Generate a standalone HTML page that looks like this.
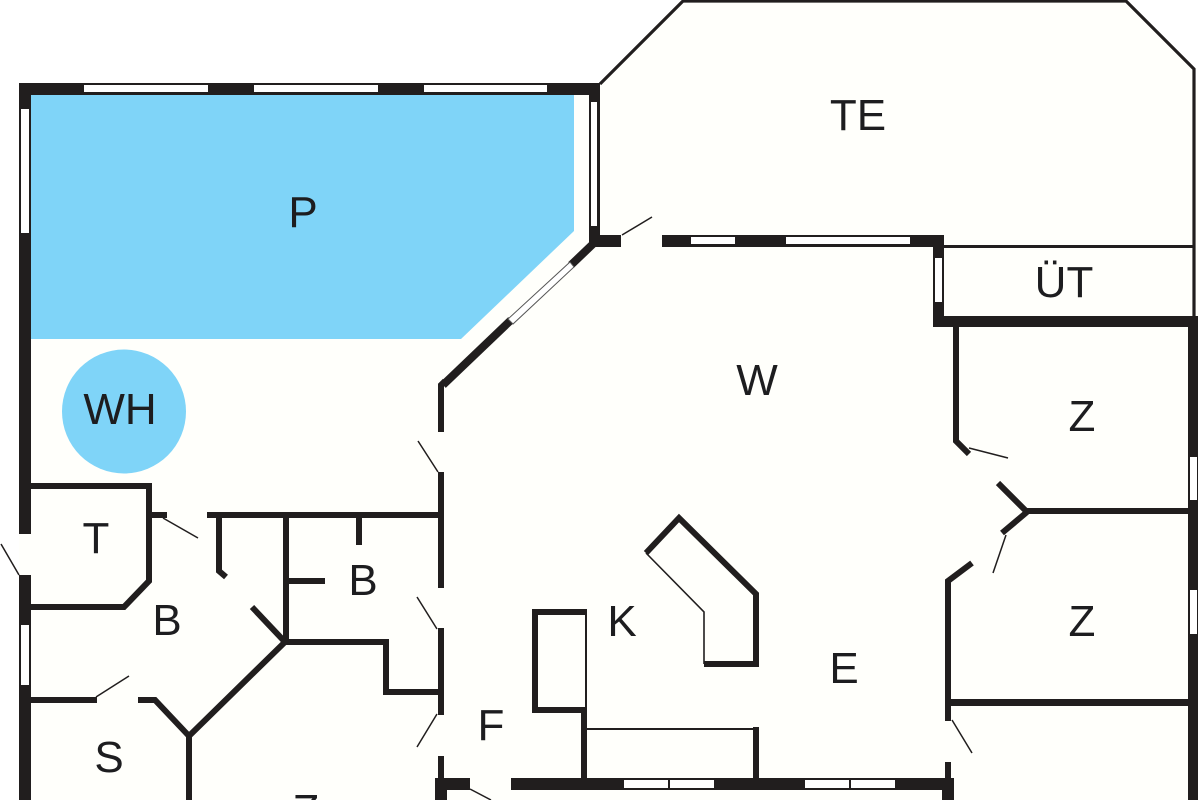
<!DOCTYPE html>
<html>
<head>
<meta charset="utf-8">
<style>
html,body{margin:0;padding:0;background:#fff;width:1200px;height:800px;overflow:hidden}
svg{display:block}
text{font-family:"Liberation Sans",sans-serif;font-size:44px;fill:#1d1d1f;text-anchor:middle}
.w{fill:#211e1e}
.l{stroke:#211e1e;fill:none;stroke-linejoin:miter;stroke-linecap:butt}
.win{fill:#fff}
</style>
</head>
<body>
<svg width="1200" height="800" viewBox="0 0 1200 800" xmlns="http://www.w3.org/2000/svg">
<!-- floor -->
<rect x="19" y="83" width="1179" height="717" fill="#fffffb"/>
<polygon points="600,83 683,0 1126,0 1195,69 1195,320 600,320" fill="#fffffb"/>
<!-- pool -->
<polygon points="31,95 574,95 574,231 461,339 31,339" fill="#7fd4f8"/>
<circle cx="124" cy="411.5" r="62" fill="#7fd4f8"/>
<!-- terrace -->
<polyline class="l" stroke-width="3.2" points="600,84 683,1 1126,1 1194,69 1194,316"/>
<rect class="w" x="944" y="245" width="250" height="3"/>
<!-- outer walls -->
<rect class="w" x="19" y="83" width="581" height="12"/>
<rect class="w" x="19" y="83" width="12" height="451"/>
<rect class="w" x="19" y="575" width="12" height="225"/>
<rect class="w" x="589" y="83" width="11" height="164"/>
<rect class="w" x="589" y="235" width="32" height="12"/>
<rect class="w" x="662" y="235" width="282" height="12"/>
<rect class="w" x="933" y="235" width="11" height="92"/>
<rect class="w" x="933" y="316" width="265" height="11"/>
<rect class="w" x="1188" y="316" width="10" height="484"/>
<rect class="w" x="435" y="778" width="35" height="12"/>
<rect class="w" x="435" y="778" width="12" height="22"/>
<rect class="w" x="511" y="778" width="443" height="12"/>
<rect class="w" x="942" y="778" width="12" height="22"/>
<!-- windows -->
<rect class="win" x="84" y="85" width="124" height="7"/>
<rect class="win" x="254" y="85" width="124" height="7"/>
<rect class="win" x="424" y="85" width="123" height="7"/>
<rect class="win" x="21" y="109" width="8" height="124"/>
<rect class="win" x="21" y="625" width="8" height="60"/>
<rect class="win" x="591" y="102" width="6" height="124"/>
<rect class="win" x="691" y="237" width="44" height="7"/>
<rect class="win" x="786" y="237" width="124" height="7"/>
<rect class="win" x="935" y="258" width="7" height="44"/>
<rect class="win" x="1190" y="457" width="7" height="43"/>
<rect class="win" x="1190" y="590" width="7" height="44"/>
<rect class="win" x="624" y="780" width="44" height="8"/>
<rect class="win" x="670" y="780" width="44" height="8"/>
<rect class="win" x="805" y="780" width="44" height="8"/>
<rect class="win" x="851" y="780" width="44" height="8"/>
<!-- central diagonal wall -->
<polyline class="l" stroke-width="8" points="594,243 571,265"/>
<polyline class="l" stroke-width="8" points="511,320 443,385"/>
<polygon points="570,262 574,267 513,324 508,319" fill="#fff" stroke="#555" stroke-width="1"/>
<polyline class="l" stroke-width="6" points="441,432 441,385 445,381"/>
<rect class="w" x="438" y="472" width="6" height="116"/>
<rect class="w" x="438" y="628" width="6" height="87"/>
<rect class="w" x="438" y="756" width="6" height="24"/>
<!-- west rooms -->
<polyline class="l" stroke-width="6" points="31,486 149,486 149,581 124,607 31,607"/>
<rect class="w" x="152" y="512" width="15" height="6"/>
<rect class="w" x="207" y="512" width="231" height="6"/>
<polyline class="l" stroke-width="6" points="219,518 219,571 226,577"/>
<rect class="w" x="283" y="515" width="6" height="127"/>
<rect class="w" x="356" y="518" width="6" height="27"/>
<rect class="w" x="289" y="578" width="36" height="6"/>
<polyline class="l" stroke-width="6" points="252,607 285,642"/>
<polyline class="l" stroke-width="6" points="285,642 386,642 386,692 438,692"/>
<polyline class="l" stroke-width="6" points="286,641 189,736 189,800"/>
<polyline class="l" stroke-width="6" points="31,700 97,700"/>
<polyline class="l" stroke-width="6" points="138,700 155,700 189,736"/>
<!-- kitchen -->
<polyline class="l" stroke-width="6" points="587,612 535,612 535,710 587,710"/>
<rect class="w" x="585" y="612" width="2" height="96"/>
<rect class="w" x="581" y="707" width="6" height="71"/>
<rect class="w" x="587" y="728" width="167" height="2"/>
<rect class="w" x="753" y="727" width="6" height="51"/>
<polyline class="l" stroke-width="6" points="646,553 679,518 756,594 756,664 704,664"/>
<polyline class="l" stroke-width="1.6" points="646,553 704,612 704,664"/>
<!-- east rooms -->
<polyline class="l" stroke-width="6" points="956,327 956,441 969,454"/>
<polyline class="l" stroke-width="6" points="998,483 1026,511 1188,511"/>
<polyline class="l" stroke-width="6" points="1027,512 1002,533"/>
<polyline class="l" stroke-width="6" points="972,563 948,581 948,721"/>
<rect class="w" x="951" y="699" width="237" height="7"/>
<rect class="w" x="945" y="762" width="6" height="18"/>
<!-- door leaves -->
<g class="l" stroke-width="1.5">
<line x1="622" y1="235" x2="652" y2="217"/>
<line x1="438" y1="472" x2="418" y2="441"/>
<line x1="437" y1="629" x2="417" y2="597"/>
<line x1="437" y1="714" x2="417" y2="747"/>
<line x1="163" y1="518" x2="198" y2="538"/>
<line x1="19" y1="575" x2="1" y2="544"/>
<line x1="96" y1="697" x2="129" y2="676"/>
<line x1="470" y1="789" x2="491" y2="800"/>
<line x1="969" y1="448" x2="1008" y2="458"/>
<line x1="1006" y1="535" x2="993" y2="573"/>
<line x1="952" y1="720" x2="972" y2="753"/>
</g>
<!-- labels -->
<text x="303" y="227">P</text>
<text x="858" y="130">TE</text>
<text x="1064" y="297">ÜT</text>
<text x="757" y="395">W</text>
<text x="1082" y="431">Z</text>
<text x="1082" y="636">Z</text>
<text x="120" y="424">WH</text>
<text x="96" y="553">T</text>
<text x="167" y="635">B</text>
<text x="363" y="595">B</text>
<text x="109" y="772">S</text>
<text x="622" y="636">K</text>
<text x="491" y="740">F</text>
<text x="844" y="683">E</text>
<text x="306" y="825">Z</text>
</svg>
</body>
</html>
